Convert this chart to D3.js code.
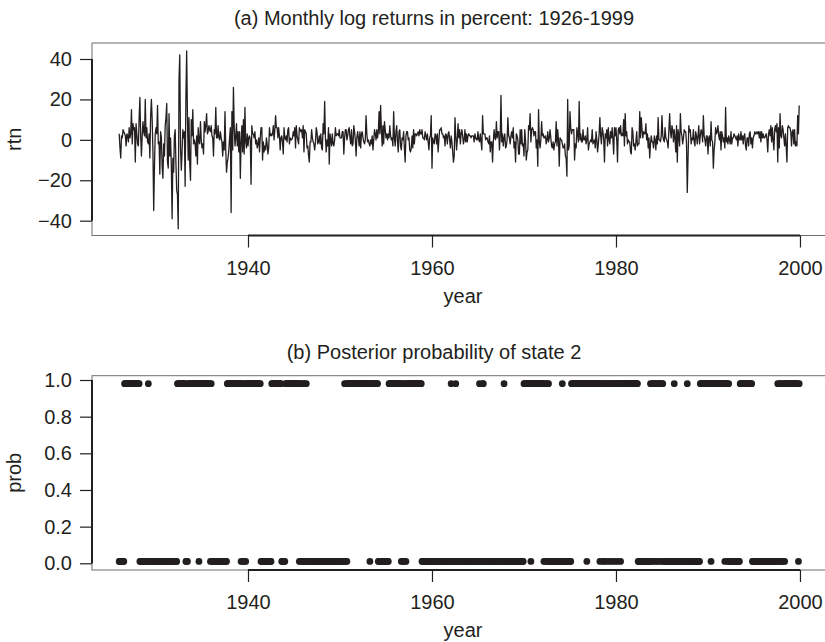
<!DOCTYPE html>
<html>
<head>
<meta charset="utf-8">
<script src="https://cdn.jsdelivr.net/npm/d3@7"></script>
<style>
  html, body { margin: 0; padding: 0; background: #fff; }
  svg { display: block; }
  text { font-family: "Liberation Sans", Arial, Helvetica, sans-serif; fill: #231f20; }
</style>
</head>
<body>
<div id="chart"></div>
<script>
// -----------------------------
// Data: monthly log returns (%), one row per year, Jan..Dec
// -----------------------------
const startYear = 1926;

const rtn1920s = [
  3, -4, -9, 2, 1, 5, 4, 3, 2, -3, 3, 2,
  -1, 6, 1, 3, 15, -2, 8, 5, 6, -11, 8, 3,
  -2, -3, 11, 21, 2, -8, 2, 9, 4, 2, 20, 1,
  6, -1, -2, 3, -9, 12, 20, 10, -6, -35, -13, 3
];
const rtn1930s = [
  6, 3, 17, -2, -1, -17, 4, 1, -13, -19, -2, -8,
  7, 11, 18, -11, -14, 13, -8, 1, -13, -39, -9, -16,
  2, 5, -12, -25, -27, -44, 30, 42, -4, -15, -6, 5,
  1, 4, -23, 21, 44, 12, -10, 11, -12, -20, 10, 2,
  15, -2, 0, -2, -8, 2, -12, 6, -1, -2, 9, 0,
  -4, -2, -7, 9, 4, 7, 13, 3, 4, 7, 5, 4,
  7, 2, 1, -8, 5, 3, 16, 1, 1, 7, 1, 0,
  4, 1, -1, -8, -1, -5, 14, -5, -16, -11, -9, -5,
  1, 6, -36, 14, -5, 26, 7, -3, 1, 8, -3, 4,
  -6, 4, -19, -1, 7, -6, 10, -7, 16, -1, -4, 3
];
const rtn1940s = [
  -3, 1, 2, 0, -22, 7, 3, 3, 1, 4, -2, 0,
  -4, -2, 1, -6, 1, 6, 6, -10, -1, -6, -3, -5,
  1, -2, -7, -4, 6, 2, 3, 2, 3, 7, 0, 5,
  12, 6, 6, 1, 6, 2, -5, 1, 2, -1, -7, 6,
  1, 0, 2, -1, 5, 6, -2, 1, 0, 0, 1, 4,
  2, 6, -4, 7, 2, 0, -2, 6, 5, 4, 5, 1,
  7, -6, 5, 4, 3, -4, -3, -8, -11, -1, -1, 5,
  1, -1, -2, -5, -1, 6, 4, -2, -1, 2, -2, 3,
  -4, -5, 8, 3, 19, 1, -6, 0, -3, 6, -12, 3,
  0, -3, 3, -2, -3, 0, 6, 2, 3, 3, 2, 5
];
const rtn1950s = [
  1, 1, 1, 4, 4, -7, 1, 5, 5, 0, 2, 5,
  6, 1, -2, 5, -3, -2, 7, 4, 0, -8, 1, 4,
  1, -3, 4, -4, 3, 4, 1, -1, -2, 0, 12, 3,
  -1, 0, -2, -3, 0, -2, 2, -5, 0, 5, 3, 0,
  5, 1, 4, 14, 3, 17, 5, -3, 7, -2, 9, 5,
  1, 3, 0, 3, 1, 7, 2, 0, 1, -3, 14, 1,
  -3, 4, 7, -1, -6, 4, 5, -3, -5, 1, 0, 4,
  -4, -11, 2, 4, 4, 0, 1, -5, -6, -4, 2, -4,
  5, -2, 3, 3, 2, 3, 4, 2, 5, 3, 3, 5,
  1, 1, 0, 4, 2, 0, 3, -1, -5, 1, 2, 12
];
const rtn1960s = [
  -14, 1, -1, -2, 3, 2, -2, 3, -6, 0, 5, 5,
  6, 3, 3, 1, 2, -3, 3, 2, -2, 3, 4, 0,
  -4, 2, -1, -6, -11, -8, 11, 2, -5, 0, 8, 1,
  5, -2, 3, 5, 2, -2, 0, 5, -1, 3, -1, 2,
  3, 2, 2, 1, 2, 2, 2, -1, 3, 1, 0, 0,
  4, 0, -1, 3, -1, -5, 12, 3, 3, 3, 0, 1,
  1, -1, -2, 2, -6, -1, -1, -11, -1, 5, 1, 0,
  9, 1, 4, 4, -5, 2, 22, -1, 3, -3, 1, 3,
  -4, -3, 0, 11, 2, 1, -2, 2, 4, 1, 6, -4,
  -1, -11, 3, 2, 0, -7, -7, 5, -2, 5, -3, -2
];
const rtn1970s = [
  -8, 5, 0, -10, -6, -5, 7, 5, 13, -1, 5, 6,
  5, 2, 4, 4, -4, 0, -13, 15, -1, -4, 0, 9,
  2, 3, 1, 1, 2, -2, 0, 4, -1, 1, 5, 1,
  -3, -4, -1, -5, -2, -1, 9, -3, 5, 0, -13, 1,
  0, 0, -2, -4, -4, -2, -8, -9, -18, 20, -5, -3,
  14, 6, 3, 5, 5, 5, -10, -2, -4, 6, 3, -1,
  19, 0, 3, -1, -1, 5, 0, 0, 2, -2, 0, 6,
  -5, -2, -1, 0, -1, 5, -2, -1, 0, -4, 4, 0,
  -6, -2, 3, 11, 2, -2, 6, 4, 0, -11, 3, 1,
  5, -3, 6, 0, -2, 4, 1, 6, 0, -7, 6, 2
];
const rtn1980s = [
  6, 0, -11, 5, 6, 3, 7, 2, 3, 2, 10, -3,
  13, 2, 4, -2, 0, -1, -1, -6, -7, 6, 4, -3,
  -2, -5, -1, 4, -3, -2, -2, 14, 1, 11, 5, 1,
  4, 3, 3, 8, 0, 3, -4, 1, -9, -2, 2, -1,
  -1, -4, 2, 0, -5, 2, -2, 11, 0, 0, -1, 2,
  12, 2, 0, -1, 6, 1, 0, -1, -4, 5, 13, 4,
  1, 7, 5, -1, 5, 1, -6, 7, -11, 5, 2, -3,
  13, 4, 2, -2, 1, 5, 4, 4, -2, -26, -9, 7,
  4, 5, -2, 1, 0, 5, -1, -3, 4, 2, -2, 2,
  7, -2, 2, 5, 4, -1, 12, 2, 0, -3, 2, 2
];
const rtn1990s = [
  -7, 1, 2, -3, 9, 0, -1, -14, -5, -1, 6, 3,
  4, 7, 2, 0, 4, -5, 4, 2, -1, 1, -4, 16,
  -1, 1, -2, 2, 0, -2, 4, -2, 1, 1, 3, 2,
  1, 0, 2, -3, 3, 0, 0, 4, 0, 2, -2, 2,
  3, -3, -5, 1, 1, -3, 3, 4, -2, 1, -4, 1,
  2, 4, 3, 3, 4, 3, 4, 1, 4, -1, 4, 1,
  3, 1, 1, 2, 3, 0, -6, 3, 5, 2, 7, -1,
  6, 0, -5, 5, 7, 4, 8, -11, 6, -4, 13, 2,
  1, 7, 5, 1, -3, 3, -3, -11, 6, 7, 6, 6,
  4, -3, 4, 5, -2, 5, -3, -1, -3, 12, 3, 17
];

// Posterior state per month: H = state 2 (prob ~1), L = prob ~0
const state1920s = ["LLLLLLLHHHHH", "HHHHHHHHHHHH", "HHHLLLLLLLLL", "LLHLLLLLLLLL"];
const state1930s = ["LLLLLLLLLLLL", "LLLLLLLLLLLL", "LLLLHHHHHHHH", "HHHLLLHHHHHH", "HHHHHHHHLHHH",
                    "HHHHHHHHHHHL", "HLLLLLLLLLLL", "LLLLLLLLLHHH", "HHHHHHHHHHHH", "HHHLHLHLHLHH"];
const state1940s = ["HHHHHHHHHHHH", "HHHHHLLLLLLL", "LLLLLLLHHHHH", "HHHHHHHHLLLL", "LHHHHHHHHHHH",
                    "HHHHHHHLHLHL", "HLHLHLLLLLLL", "LLLLLLLLLLLL", "LLLLLLLLLLLL", "LLLLLLLLLLLL"];
const state1950s = ["LLLLLLHLHLHH", "HHHHHHHHHHHH", "HHHHHHHHHHHH", "HHHLHHHHHHHH", "HHLLLLLLLLLL",
                    "LLLLHHHHHHHH", "HHHHHHHHLHLH", "LHLHHHHHHHHH", "HHHHHHHHHHHL", "LLLLLLLLLLLL"];
const state1960s = ["LLLLLLLLLLLL", "LLLLLLLLLLLL", "LHLLLLLHLLLL", "LLLLLLLLLLLL", "LLLLLLLLLLLL",
                    "LLHLLLHHLLLL", "LLLLLLLLLLLL", "LLLLLLLLLLHL", "LLLLLLLLLLLL", "LLLLLLLLLLLL"];
const state1970s = ["HHHHHHHHHLHH", "HHHHHHHHHHHH", "HHLHLHLHHLLL", "LLLLLLLLLLLL", "LLHLLLLLLLLL",
                    "LLHHHHHHHHHH", "HHHHHHHHHHLH", "HHHHHHHHHHHH", "HHHLHHHLHHLH", "HHLHHHLHHHLH"];
const state1980s = ["HHLHHHLHHHHH", "HHHHHHHHHHHH", "HHHHHLLLLLLL", "LLLLLLLLLHLH", "HLHHLHHLHHLH",
                    "HHLLLLLLLLLL", "LLLLHLLLLLLL", "LLLLLLLLLHLL", "LLLLLLLLLLLL", "LLHHHHHHHHHH"];
const state1990s = ["HHHHLHHHHHHH", "HHHHHHHHHHLH", "HHLHLLLLLLLL", "LLLLLLHHHHHH", "HHHHHHHHHHLL",
                    "LLLLLLLLLLLL", "LLLLLLLLLLLL", "LLLLLLLHLHLH", "LHLHLHHHHHHH", "HHHHHHHHHHLH"];

const probHigh = 0.98;
const probLow = 0.01;

const yearTicks = [1940, 1960, 1980, 2000];
const rtnTicks = [-40, -20, 0, 20, 40];
const probTicks = [0, 0.2, 0.4, 0.6, 0.8, 1.0];

// -----------------------------
// Build series
// -----------------------------
const rtnAll = [].concat(rtn1920s, rtn1930s, rtn1940s, rtn1950s, rtn1960s, rtn1970s, rtn1980s, rtn1990s);
const returns = rtnAll.map((v, i) => ({ t: startYear + i / 12, v }));

const stateAll = [].concat(state1920s, state1930s, state1940s, state1950s,
                           state1960s, state1970s, state1980s, state1990s).join("");
const probs = stateAll.split("").map((s, i) => ({ t: startYear + i / 12, p: s === "H" ? probHigh : probLow }));

// -----------------------------
// SVG & scales
// -----------------------------
const W = 825, H = 642;
const ink = "#231f20";
const fontSize = 20;

const svg = d3.select("#chart").append("svg")
  .attr("width", W)
  .attr("height", H);

const x = d3.scaleLinear().domain([1923.043, 2002.873]).range([92, 826.4]);
const yTop = d3.scaleLinear().domain([-47.33, 47.92]).range([235.5, 43]);
const yBot = d3.scaleLinear().domain([-0.0366, 1.0235]).range([570, 375.7]);

function panel(y, ticks, fmt, ylab, title, titleY) {
  const g = svg.append("g");
  const [y0, y1] = y.range();

  // plot box (light)
  g.append("rect")
    .attr("x", x.range()[0])
    .attr("y", y1)
    .attr("width", x.range()[1] - x.range()[0])
    .attr("height", y0 - y1)
    .attr("fill", "none")
    .attr("stroke", "#6d6d6d")
    .attr("stroke-width", 1);

  // x axis
  const xa = g.append("g")
    .attr("transform", `translate(0,${y0})`)
    .call(d3.axisBottom(x).tickValues(yearTicks).tickSize(12).tickFormat(d3.format("d")));
  xa.select(".domain").remove();
  xa.selectAll(".tick line").attr("stroke", ink).attr("stroke-width", 1.2);
  xa.selectAll(".tick text")
    .attr("y", 25)
    .attr("dy", "0.71em")
    .style("font-size", fontSize + "px")
    .style("font-family", null)
    .attr("fill", ink);
  g.append("line")
    .attr("x1", x(yearTicks[0])).attr("x2", x(yearTicks[yearTicks.length - 1]))
    .attr("y1", y0).attr("y2", y0)
    .attr("stroke", ink).attr("stroke-width", 2);

  // y axis
  const ya = g.append("g")
    .attr("transform", `translate(${x.range()[0]},0)`)
    .call(d3.axisLeft(y).tickValues(ticks).tickSize(12).tickFormat(fmt));
  ya.select(".domain").remove();
  ya.selectAll(".tick line").attr("stroke", ink).attr("stroke-width", 1.2);
  ya.selectAll(".tick text")
    .attr("x", -20)
    .style("font-size", fontSize + "px")
    .style("font-family", null)
    .attr("fill", ink);
  g.append("line")
    .attr("x1", x.range()[0]).attr("x2", x.range()[0])
    .attr("y1", y(ticks[0])).attr("y2", y(ticks[ticks.length - 1]))
    .attr("stroke", ink).attr("stroke-width", 2);

  // labels
  g.append("text")
    .attr("x", 463)
    .attr("y", y0 + 67)
    .attr("text-anchor", "middle")
    .style("font-size", fontSize + "px")
    .text("year");

  g.append("text")
    .attr("transform", `translate(21,${(y0 + y1) / 2}) rotate(-90)`)
    .attr("text-anchor", "middle")
    .style("font-size", fontSize + "px")
    .text(ylab);

  g.append("text")
    .attr("x", 434)
    .attr("y", titleY)
    .attr("text-anchor", "middle")
    .style("font-size", fontSize + "px")
    .text(title);

  return g;
}

const gTop = panel(yTop, rtnTicks, d => d < 0 ? "\u2212" + Math.abs(d) : d, "rtn",
  "(a) Monthly log returns in percent: 1926-1999", 25);
const gBot = panel(yBot, probTicks, d3.format(".1f"), "prob",
  "(b) Posterior probability of state 2", 359);

// -----------------------------
// Marks
// -----------------------------
gTop.append("path")
  .datum(returns)
  .attr("fill", "none")
  .attr("stroke", ink)
  .attr("stroke-width", 1.3)
  .attr("stroke-linejoin", "round")
  .attr("d", d3.line().x(d => x(d.t)).y(d => yTop(d.v)));

gBot.selectAll("circle")
  .data(probs)
  .join("circle")
  .attr("cx", d => x(d.t))
  .attr("cy", d => yBot(d.p))
  .attr("r", 3.4)
  .attr("fill", ink);
</script>
</body>
</html>
